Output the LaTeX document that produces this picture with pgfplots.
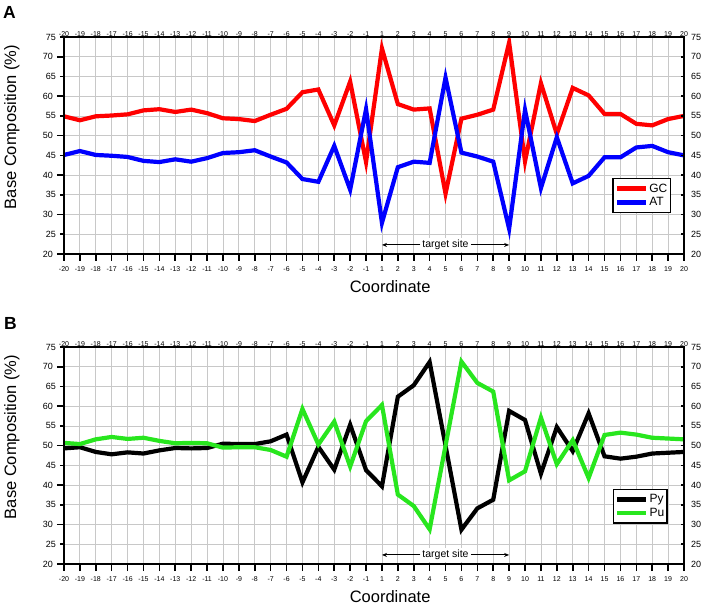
\documentclass[border=0pt]{standalone}
\usepackage{pgfplots}
\pgfplotsset{compat=1.18}
\usepackage{pgfplotstable}
\usepackage{fontspec}
\setmainfont{Liberation Sans}
\usetikzlibrary{arrows.meta}
\definecolor{gcred}{RGB}{255,0,0}
\definecolor{atblue}{RGB}{0,0,255}
\definecolor{pugreen}{RGB}{40,230,30}
\definecolor{gridgray}{RGB}{200,200,200}

\pgfplotstableread{
i GC AT Py Pu
0 54.9 45.1 49.3 50.7
1 53.9 46.1 49.6 50.4
2 54.9 45.1 48.4 51.6
3 55.1 44.9 47.8 52.2
4 55.4 44.6 48.3 51.7
5 56.4 43.6 48.0 52.0
6 56.7 43.3 48.8 51.2
7 56.0 44.0 49.4 50.6
8 56.6 43.4 49.3 50.7
9 55.7 44.3 49.4 50.6
10 54.4 45.6 50.5 49.5
11 54.2 45.8 50.4 49.6
12 53.7 46.3 50.4 49.6
13 55.3 44.7 51.1 48.9
14 56.8 43.2 52.8 47.2
15 61.0 39.0 40.7 59.3
16 61.7 38.3 49.7 50.3
17 52.6 47.4 43.9 56.1
18 63.7 36.3 55.3 44.7
19 43.3 56.7 43.8 56.2
20 72.1 27.9 39.7 60.3
21 58.0 42.0 62.4 37.6
22 56.6 43.4 65.3 34.7
23 56.9 43.1 71.2 28.8
24 35.3 64.7 50.0 50.0
25 54.3 45.7 28.7 71.3
26 55.3 44.7 34.1 65.9
27 56.6 43.4 36.3 63.7
28 73.6 26.4 58.8 41.2
29 43.5 56.5 56.5 43.5
30 63.3 36.7 42.9 57.1
31 50.4 49.6 54.7 45.3
32 62.1 37.9 48.6 51.4
33 60.2 39.8 58.2 41.8
34 55.5 44.5 47.3 52.7
35 55.5 44.5 46.7 53.3
36 53.0 47.0 47.2 52.8
37 52.6 47.4 48.0 52.0
38 54.2 45.8 48.2 51.8
39 55.0 45.0 48.4 51.6
}\data

\pgfplotsset{
  panel/.style={
    scale only axis, width=620pt, height=217pt,
    xmin=0, xmax=39, ymin=20, ymax=75,
    xtick={0,...,39},
    xticklabels={-20,-19,-18,-17,-16,-15,-14,-13,-12,-11,-10,-9,-8,-7,-6,-5,-4,-3,-2,-1,1,2,3,4,5,6,7,8,9,10,11,12,13,14,15,16,17,18,19,20},
    /pgf/number format/assume math mode=true,
    axis line style={line width=1.6pt, black},
    xticklabel style={font=\fontsize{7}{8}\selectfont, inner sep=1pt},
    yticklabel style={font=\fontsize{9}{10}\selectfont, inner sep=1pt},
  },
  mainpanel/.style={
    panel,
    ytick={20,30,...,70},
    extra y ticks={25,35,45,55,65,75},
    extra y tick style={major tick length=4pt},
    tick pos=left, tick align=outside,
    major tick length=7pt,
    grid=major, grid style={gridgray, line width=0.8pt},
    every tick/.style={line width=1.6pt, black},
    xticklabel style={yshift=-4pt},
    yticklabel style={xshift=-3pt},
    xlabel={Coordinate},
    xlabel style={font=\fontsize{16.5}{18}\selectfont, inner sep=0pt,
      at={(axis description cs:0.526,0)}, anchor=north, yshift=-26pt},
    ylabel={Base Composition (\%)},
    ylabel style={font=\fontsize{16.5}{18}\selectfont, inner sep=0pt,
      at={(axis description cs:-0.0774,0.585)}, anchor=base},
    legend cell align=left,
    legend style={at={(axis description cs:0.979,0.189)}, anchor=south east,
      draw=black, line width=1.4pt, font=\fontsize{12}{13}\selectfont,
      inner xsep=2pt, inner ysep=4pt, row sep=2pt,
      nodes={inner sep=1pt}},
    legend image code/.code={\draw[#1] (0pt,0pt) -- (29pt,0pt);},
  },
  overpanel/.style={
    panel,
    ytick={20,25,...,75},
    tick pos=right, xticklabel pos=right, yticklabel pos=right,
    tick align=inside,
    major tick length=3pt,
    x tick style={draw=none},
    y tick style={line width=1.6pt, black},
    xticklabel style={yshift=-1pt},
    yticklabel style={xshift=6pt},
  },
}

\begin{document}
\begin{tikzpicture}
\useasboundingbox (0pt,0pt) rectangle (707pt,-609pt);
% Panel A
\begin{axis}[mainpanel, at={(64pt,-254pt)}, anchor=south west]
  \addplot[gcred, line width=4.2pt] table[x=i, y=GC] {\data};
  \addlegendentry{GC}
  \addplot[atblue, line width=4.2pt] table[x=i, y=AT] {\data};
  \addlegendentry{AT}
  \node[fill=white, inner sep=2pt, font=\fontsize{10.5}{12}\selectfont] (tsA) at (axis cs:24,22.3) {target site};
  \draw[-{Stealth[length=5pt,width=4pt]}, line width=0.9pt] (tsA.west) -- (axis cs:20,22.3);
  \draw[-{Stealth[length=5pt,width=4pt]}, line width=0.9pt] (tsA.east) -- (axis cs:28,22.3);
\end{axis}
\begin{axis}[overpanel, at={(64pt,-254pt)}, anchor=south west]
\end{axis}
\node[anchor=base west, inner sep=0pt, font=\bfseries\fontsize{17.5}{20}\selectfont] at (3pt,-19pt) {A};
% Panel B
\begin{axis}[mainpanel, at={(64pt,-564pt)}, anchor=south west,
  legend style={at={(axis description cs:0.974,0.185)}}]
  \addplot[black, line width=4.2pt] table[x=i, y=Py] {\data};
  \addlegendentry{Py}
  \addplot[pugreen, line width=4.2pt] table[x=i, y=Pu] {\data};
  \addlegendentry{Pu}
  \node[fill=white, inner sep=2pt, font=\fontsize{10.5}{12}\selectfont] (tsB) at (axis cs:24,22.3) {target site};
  \draw[-{Stealth[length=5pt,width=4pt]}, line width=0.9pt] (tsB.west) -- (axis cs:20,22.3);
  \draw[-{Stealth[length=5pt,width=4pt]}, line width=0.9pt] (tsB.east) -- (axis cs:28,22.3);
\end{axis}
\begin{axis}[overpanel, at={(64pt,-564pt)}, anchor=south west]
\end{axis}
\node[anchor=base west, inner sep=0pt, font=\bfseries\fontsize{17.5}{20}\selectfont] at (4pt,-330pt) {B};
\end{tikzpicture}
\end{document}
